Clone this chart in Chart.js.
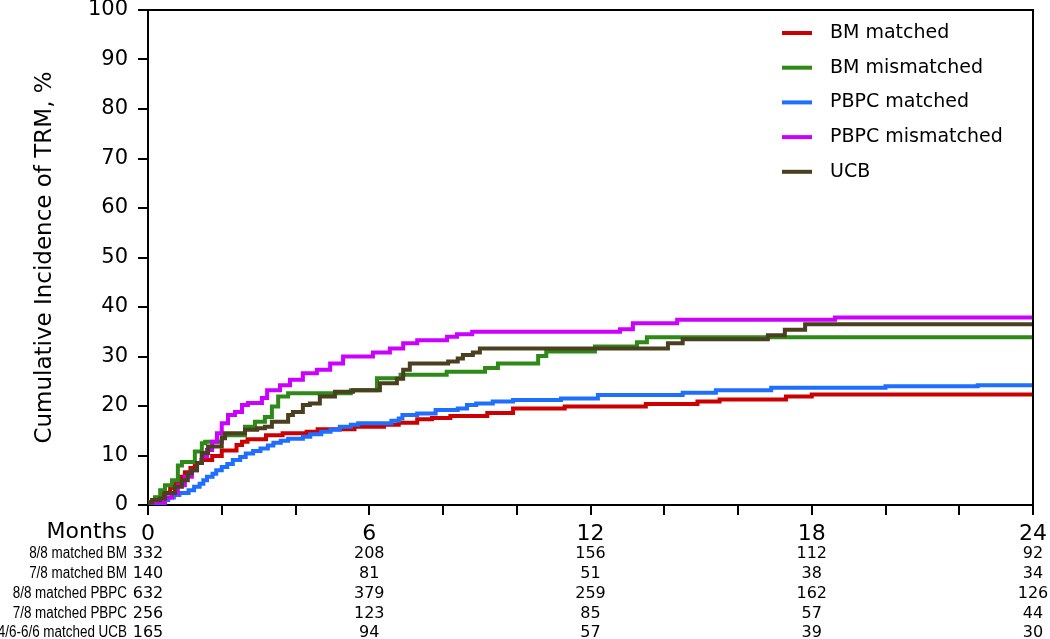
<!DOCTYPE html>
<html><head><meta charset="utf-8">
<script src="https://cdn.jsdelivr.net/npm/chart.js@4"></script>
<style>html,body{margin:0;padding:0;background:#fff}#wrap{width:1050px;height:639px;position:relative}</style>
</head><body><div id="wrap"><canvas id="c" width="1050" height="639"></canvas></div>
<script>
// ---- data ----
const seriesLabels = ['BM matched', 'BM mismatched', 'PBPC matched', 'PBPC mismatched', 'UCB'];
const seriesColors = ['#CC0000', '#2E8A17', '#1F6FFF', '#CC00FF', '#4A3F1F'];

const bmMatchedT = [0,0.2,0.4,0.6,0.75,0.9,1.0,1.15,1.27,1.45,1.74,2.0,2.4,2.55,2.7,3.2,3.65,4.3,4.6,5.6,6.4,6.8,7.3,7.7,8.2,9.2,9.9,11.3,13.5,14.9,15.5,17.3,18.0,23.3,24];
const bmMatchedV = [0,0.6,1.5,2.5,3.5,4.6,5.7,6.6,7.5,8.5,9.1,9.9,11.0,12.1,12.8,13.3,14.1,14.5,14.8,15.3,15.8,16.2,16.6,17.3,17.6,18.0,18.6,19.5,19.9,20.4,20.9,21.3,21.9,22.3,22.3];

const bmMismatchedT = [0,0.19,0.33,0.46,0.65,0.81,0.92,1.27,1.46,1.55,2.0,2.63,2.9,3.17,3.36,3.53,3.8,5.5,6.21,6.85,8.1,9.14,9.49,10.58,10.8,12.12,13.26,13.53,19.44,24];
const bmMismatchedV = [0,0.5,1.5,3.0,4.0,5.0,8.0,8.7,10.8,12.5,12.8,14.1,15.8,16.8,17.8,19.9,21.9,22.6,23.2,25.6,26.3,26.9,27.7,28.6,30.1,31.0,32.0,32.9,33.9,33.9];

const pbpcMatchedT = [0,0.45,0.55,0.7,0.85,1.1,1.25,1.4,1.5,1.6,1.75,1.85,2.0,2.15,2.3,2.5,2.65,2.85,3.05,3.25,3.4,3.6,3.8,4.2,4.4,4.7,4.95,5.2,5.5,5.7,6.6,6.8,6.9,7.3,7.8,8.4,8.65,8.9,9.35,9.9,11.2,12.2,14.5,15.4,16.9,20.0,22.5,22.7,24];
const pbpcMatchedV = [0,0.4,1.0,1.5,2.0,2.4,3.0,3.7,4.3,5.0,5.7,6.3,7.0,7.7,8.3,9.1,9.7,10.4,10.9,11.4,12.0,12.6,13.0,13.4,13.8,14.3,14.8,15.2,15.8,16.2,16.5,17.0,17.5,18.2,18.5,19.2,19.5,20.2,20.5,20.9,21.2,21.5,22.2,22.7,23.2,23.7,24.0,24.2,24.2];

const pbpcMismatchedT = [0,0.46,0.65,0.81,1.0,1.19,1.33,1.46,1.6,1.74,1.87,2.0,2.17,2.36,2.55,2.71,3.09,3.23,3.58,3.85,4.2,4.58,4.94,5.29,6.1,6.56,6.92,7.3,8.11,8.38,8.79,12.8,13.15,14.35,18.63,19.66,24];
const pbpcMismatchedV = [0,0.5,1.5,2.4,4.0,5.7,7.0,8.5,9.8,11.1,12.8,14.5,16.5,18.2,18.8,20.2,20.6,21.6,23.2,24.2,25.3,26.6,27.3,28.6,30.0,30.8,31.6,32.7,33.3,34.0,34.5,35.0,35.5,36.7,37.4,37.9,37.9];

const ucbT = [0,0.11,0.33,0.46,0.73,0.92,1.08,1.19,1.33,1.46,1.63,2.0,2.09,2.63,2.96,3.17,3.36,3.8,3.93,4.2,4.39,4.66,5.07,5.56,6.29,6.75,6.92,7.1,8.14,8.4,8.54,8.81,9.0,14.1,14.5,16.81,17.27,17.82,19.44,24];
const ucbV = [0,0.5,1.0,1.3,2.4,3.7,5.0,6.4,7.0,8.5,10.5,11.8,13.5,14.5,15.2,15.5,15.8,16.8,18.2,18.8,20.2,20.5,21.9,22.9,23.2,24.6,25.5,27.3,28.6,29.0,29.6,30.3,30.8,31.6,32.7,33.5,34.3,35.4,36.5,36.5];

// number at risk table
const riskMonths = [0, 6, 12, 18, 24];
const riskRowLabels = ['8/8 matched BM', '7/8 matched BM', '8/8 matched PBPC', '7/8 matched PBPC', '4/6-6/6 matched UCB'];
const riskBMmatched = [332, 208, 156, 112, 92];
const riskBMmismatched = [140, 81, 51, 38, 34];
const riskPBPCmatched = [632, 379, 259, 162, 126];
const riskPBPCmismatched = [256, 123, 85, 57, 44];
const riskUCB = [165, 94, 57, 39, 30];
const riskRows = [riskBMmatched, riskBMmismatched, riskPBPCmatched, riskPBPCmismatched, riskUCB];

const yTitle = 'Cumulative Incidence of TRM, %';
const xRowTitle = 'Months';

// ---- build ----
const seriesT = [bmMatchedT, bmMismatchedT, pbpcMatchedT, pbpcMismatchedT, ucbT];
const seriesV = [bmMatchedV, bmMismatchedV, pbpcMatchedV, pbpcMismatchedV, ucbV];
const FONT = "'DejaVu Sans', Verdana, sans-serif";

const datasets = seriesLabels.map((lab, i) => ({
  label: lab,
  data: seriesT[i].map((t, k) => ({x: t, y: seriesV[i][k]})),
  borderColor: seriesColors[i],
  backgroundColor: seriesColors[i],
  borderWidth: 4,
  stepped: 'after',
  pointRadius: 0,
  fill: false,
  order: 5 - i
}));

const extras = {
  id: 'extras',
  afterDraw(chart) {
    const ctx = chart.ctx;
    const a = chart.chartArea;
    const xs = chart.scales.x;
    ctx.save();
    // frame top/right
    ctx.strokeStyle = '#000';
    ctx.lineWidth = 2;
    ctx.beginPath();
    ctx.moveTo(a.left - 1, a.top);
    ctx.lineTo(a.right, a.top);
    ctx.lineTo(a.right, a.bottom + 1);
    ctx.stroke();
    // legend
    ctx.font = '19px ' + FONT;
    ctx.textBaseline = 'middle';
    ctx.textAlign = 'left';
    seriesLabels.forEach((lab, i) => {
      const y = 33 + i * 34.7;
      ctx.strokeStyle = seriesColors[i];
      ctx.lineWidth = 4;
      ctx.beginPath();
      ctx.moveTo(782, y);
      ctx.lineTo(812, y);
      ctx.stroke();
      ctx.fillStyle = '#000';
      ctx.fillText(lab, 830, y);
    });
    // Months label
    ctx.font = '22px ' + FONT;
    ctx.textAlign = 'right';
    ctx.fillStyle = '#000';
    ctx.fillText(xRowTitle, 127, 532);
    // risk table
    const rowY = [554, 574, 594, 614, 633];
    riskRows.forEach((row, r) => {
      ctx.save();
      ctx.font = "16px 'Liberation Sans', Arial, sans-serif";
      ctx.textAlign = 'right';
      ctx.translate(127, rowY[r]);
      ctx.scale(0.84, 1);
      ctx.fillText(riskRowLabels[r], 0, 0);
      ctx.restore();
      ctx.font = '16px ' + FONT;
      ctx.textAlign = 'center';
      ctx.textBaseline = 'middle';
      row.forEach((v, c) => {
        ctx.fillText(String(v), xs.getPixelForValue(riskMonths[c]), rowY[r]);
      });
    });
    ctx.restore();
  }
};

new Chart(document.getElementById('c'), {
  type: 'line',
  data: {datasets},
  options: {
    responsive: false,
    animation: false,
    layout: {padding: {top: 10, right: 17, left: 0, bottom: 0}},
    plugins: {legend: {display: false}, tooltip: {enabled: false}},
    scales: {
      x: {
        type: 'linear', min: 0, max: 24,
        afterFit: s => { s.height = 134; s.paddingLeft = 0; s.paddingRight = 0; s.paddingTop = 0; s.paddingBottom = 0; },
        border: {display: true, color: '#000', width: 2},
        grid: {drawOnChartArea: false, drawTicks: true, tickLength: 10, color: '#000', lineWidth: 2},
        ticks: {
          stepSize: 2, autoSkip: false, maxRotation: 0, padding: 6,
          color: '#000', font: {family: FONT, size: 22},
          callback: v => (v % 6 === 0 ? String(v) : '')
        }
      },
      y: {
        min: 0, max: 100,
        afterFit: s => { s.width = 148; s.paddingLeft = 0; s.paddingRight = 0; s.paddingTop = 0; s.paddingBottom = 0; },
        border: {display: true, color: '#000', width: 2},
        grid: {drawOnChartArea: false, drawTicks: true, tickLength: 10, color: '#000', lineWidth: 2},
        ticks: {stepSize: 10, padding: 10, color: '#000', font: {family: FONT, size: 21}},
        title: {display: true, text: yTitle, color: '#000', font: {family: FONT, size: 23}, padding: {top: 31, bottom: 0}}
      }
    }
  },
  plugins: [extras]
});
</script></body></html>
